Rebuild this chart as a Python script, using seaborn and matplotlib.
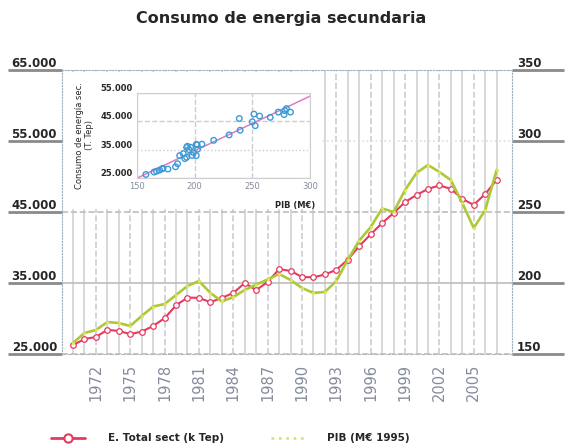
import numpy as np
import pandas as pd
import seaborn as sns
import matplotlib.pyplot as plt
from matplotlib.lines import Line2D
from matplotlib.patches import Rectangle

# ---------------- data ----------------
years = list(range(1970, 2008))
energia_total = [26250, 27100, 27400, 28400, 28250, 27800, 28150, 28950, 30050, 31850,
                 32950, 32900, 32300, 32900, 33600, 35000, 34000, 35150, 36950, 36700,
                 35850, 35800, 36200, 36850, 38300, 40200, 41850, 43450, 44850, 46400,
                 47400, 48250, 48750, 48250, 46850, 46000, 47550, 49500]
pib = [157.7, 164.8, 166.9, 172.5, 171.8, 169.7, 176.8, 183.4, 185.2, 191.5,
       197.9, 201.4, 193.0, 187.0, 190.1, 195.1, 198.9, 202.5, 206.3, 202.1,
       196.5, 193.0, 193.7, 201.4, 216.5, 229.9, 239.4, 252.5, 250.0, 265.5,
       277.5, 283.1, 278.2, 272.5, 256.3, 238.7, 251.4, 279.6]
year_ticks = [1972, 1975, 1978, 1981, 1984, 1987, 1990, 1993, 1996, 1999, 2002, 2005]
left_ticks = [25000, 35000, 45000, 55000, 65000]
right_ticks = [150, 200, 250, 300, 350]
inset_xticks = [150, 200, 250, 300]
inset_yticks = [25000, 35000, 45000, 55000]

title = "Consumo de energia secundaria"
label_e = "E. Total sect (k Tep)"
label_pib = "PIB (M€ 1995)"
inset_xlabel = "PIB (M€)"
inset_ylabel = "Consumo de energía sec.\n(T. Tep)"

def fmt(v):
    return f"{v:,}".replace(",", ".")

# ---------------- style ----------------
sns.set_style("white")
plt.rcParams['font.family'] = ['DejaVu Sans']

RED = "#e6395e"
GREEN = "#adc93a"
GREY = "#cdcdcd"
TICKCOL = "#868b9c"
PX = 0.72  # points per pixel at dpi 100

df = pd.DataFrame({"year": years, "energia": energia_total, "pib": pib})

fig = plt.figure(figsize=(5.66, 4.46), dpi=100)
ax = fig.add_axes([62 / 566, 1 - 354 / 446, 450 / 566, 284 / 446])
ax2 = ax.twinx()

sns.lineplot(data=df, x="year", y="energia", ax=ax, color=RED, lw=1.5,
             marker="o", markersize=4, markerfacecolor="white",
             markeredgecolor=RED, markeredgewidth=0.9, zorder=4)
sns.lineplot(data=df, x="year", y="pib", ax=ax2, color=GREEN, lw=1.9,
             marker=".", markersize=3, markerfacecolor="#e6e35a",
             markeredgecolor="#e6e35a")

ax.set_xlim(1969.04, 2008.34)
ax.set_ylim(25000, 65000)
ax2.set_ylim(150, 350)
ax.set_xlabel("")
ax.set_ylabel("")
ax2.set_ylabel("")

# x ticks / grid
ax.set_xticks(year_ticks)
ax.set_xticks(years, minor=True)
ax.set_xticklabels([str(y) for y in year_ticks])
ax.tick_params(axis="x", which="both", length=0, pad=7, labelrotation=90,
               labelsize=10.5, labelcolor=TICKCOL)
for lbl in ax.get_xticklabels():
    lbl.set_ha("center")
ax.set_axisbelow(True)
ax.grid(which="major", axis="x", color=GREY, ls="--", lw=1.2)
ax.grid(which="minor", axis="x", color="#d8d8d8", ls="-", lw=1.4)

# y ticks left
ax.set_yticks(left_ticks)
ax.set_yticklabels([fmt(v) for v in left_ticks])
ax.tick_params(axis="y", length=54 * PX, width=2, color="#8a8a8a",
               pad=-49 * PX, labelsize=8.5)
for lbl in ax.get_yticklabels():
    lbl.set_va("bottom")
    lbl.set_fontweight("bold")
ax.grid(axis="y", color="#bdbdbd", lw=1.2)
for gl, st in zip(ax.yaxis.get_gridlines(), ["--", "-", "--", ":", ":"]):
    gl.set_linestyle(st)
ax.yaxis.get_gridlines()[3].set_color("#dddddd")

# y ticks right
ax2.set_yticks(right_ticks)
ax2.set_yticklabels([str(v) for v in right_ticks])
ax2.tick_params(axis="y", length=52 * PX, width=2, color="#8a8a8a",
                pad=-47 * PX, labelsize=8.5)
for lbl in ax2.get_yticklabels():
    lbl.set_va("bottom")
    lbl.set_fontweight("bold")

# spines
for s in ["left", "top"]:
    ax.spines[s].set_linestyle(":")
    ax.spines[s].set_color("#9fb0c0")
ax.spines["bottom"].set_linestyle("--")
ax.spines["bottom"].set_color("#b8b8b8")
ax.spines["right"].set_visible(False)
for s in ["left", "top", "bottom"]:
    ax2.spines[s].set_visible(False)
ax2.spines["right"].set_linestyle(":")
ax2.spines["right"].set_color("#9fb0c0")

# white area behind inset
ax.add_patch(Rectangle((0.007, 0.509), 0.571, 0.484, transform=ax.transAxes,
                       facecolor="white", edgecolor="none", zorder=1))

# ---------------- inset ----------------
axi = fig.add_axes([137 / 566, 1 - 178 / 446, 173 / 566, 85 / 446])
axi.set_xlim(150, 300)
axi.set_ylim(25000, 55000)
sns.scatterplot(data=df, x="pib", y="energia", ax=axi, marker="o", s=16,
                facecolors="none", edgecolors="#3d9ad8", linewidth=1.0, zorder=3)
sns.regplot(data=df, x="pib", y="energia", ax=axi, scatter=False, ci=None,
            truncate=False, line_kws=dict(color="#e07ac4", lw=1.1))
axi.set_xlim(150, 300)
axi.set_ylim(25000, 55000)
axi.set_xticks(inset_xticks)
axi.set_xticklabels([str(v) for v in inset_xticks])
axi.tick_params(axis="x", length=0, pad=3, labelsize=6, labelcolor=TICKCOL)
axi.set_yticks(inset_yticks)
axi.set_yticklabels([fmt(v) for v in inset_yticks])
axi.tick_params(axis="y", length=32 * PX, width=1.5, color="#8a8a8a",
                pad=-28 * PX, labelsize=6)
for lbl in axi.get_yticklabels():
    lbl.set_va("bottom")
    lbl.set_fontweight("bold")
axi.set_axisbelow(True)
axi.grid(axis="x", color=GREY, ls="--", lw=1.0)
axi.grid(axis="y", color=GREY, lw=1.0)
for gl, st in zip(axi.yaxis.get_gridlines(), ["-", ":", "--", "-"]):
    gl.set_linestyle(st)
for s in axi.spines.values():
    s.set_color("#cfcfcf")
axi.set_xlabel(inset_xlabel, fontsize=6, fontweight="bold", ha="right")
axi.xaxis.set_label_coords(1.03, -0.27)
axi.set_ylabel(inset_ylabel, fontsize=6, linespacing=1.1)
axi.yaxis.set_label_coords(-0.25, 0.5)

# ---------------- title & legend ----------------
fig.text(0.497, 0.958, title, ha="center", va="center", fontsize=11.5,
         fontweight="bold")

handles = [
    Line2D([], [], color=RED, lw=2, marker="o", markersize=6,
           markerfacecolor="white", markeredgecolor=RED, markeredgewidth=1.5),
    Line2D([], [], color="#dfe27a", lw=2, ls=":"),
]
fig.legend(handles, [label_e, label_pib], loc="lower left",
           bbox_to_anchor=(42 / 566, -0.015), ncol=2, frameon=False,
           handlelength=3.2, handletextpad=2.2, columnspacing=4.5,
           prop={"weight": "bold", "size": 7.5})

fig.savefig("out.png", dpi=100)
